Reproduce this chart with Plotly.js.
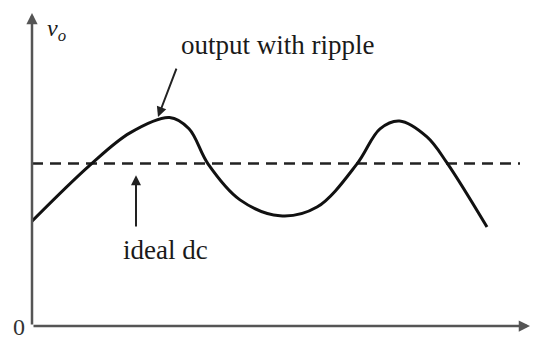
<!DOCTYPE html>
<html>
<head>
<meta charset="utf-8">
<script src="https://cdn.plot.ly/plotly-3.0.1.min.js"></script>
<style>html,body{margin:0;padding:0;background:#fff;}#chart{width:544px;height:341px;}</style>
</head>
<body>
<div id="chart"></div>
<script>
// time (arbitrary units) and output voltage v_o (arbitrary units)
var t = [0, 11.6, 19.6, 27.5, 31.4, 35.2, 41.6, 49.6, 57, 65, 69.6, 73.5, 79, 83, 91];
var vo = [3.35, 5.14, 6.17, 6.66, 6.30, 5.18, 4.03, 3.52, 3.80, 5.18, 6.30, 6.55, 6.04, 5.21, 3.16];
var dcT = [0, 97.6];
var dcLevel = [5.19, 5.19];
var labels = {ripple: "output with ripple", dc: "ideal dc", yName: "<i>v</i><sub><i>o</i></sub>", origin: "0"};

var serif = "Liberation Serif, Times New Roman, serif";
var data = [
  {x: dcT, y: dcLevel, mode: "lines", line: {color: "#222", width: 2.5, dash: "11px,7px"}, hoverinfo: "skip"},
  {x: t, y: vo, mode: "lines", line: {color: "#111", width: 3, shape: "spline", smoothing: 1}, hoverinfo: "skip"}
];
var arrowBase = {xref: "x", yref: "y", axref: "x", ayref: "y", text: "", showarrow: true, arrowhead: 2, arrowsize: 1, arrowcolor: "#222"};
var annotations = [
  Object.assign({}, arrowBase, {x: 99.6, y: 0, ax: 0, ay: 0, arrowwidth: 2.5, arrowcolor: "#555", arrowsize: 0.9}),
  Object.assign({}, arrowBase, {x: 0, y: 10, ax: 0, ay: 0, arrowwidth: 2.5, arrowcolor: "#555", arrowsize: 0.9}),
  Object.assign({}, arrowBase, {x: 25.2, y: 6.68, ax: 29, ay: 8.27, arrowwidth: 2}),
  Object.assign({}, arrowBase, {x: 20.8, y: 4.82, ax: 20.8, ay: 3.13, arrowwidth: 2}),
  {xref: "x", yref: "y", x: 49, y: 8.98, text: labels.ripple, showarrow: false, font: {family: serif, size: 27, color: "#1a1a1a"}},
  {xref: "x", yref: "y", x: 26.6, y: 2.43, text: labels.dc, showarrow: false, font: {family: serif, size: 27, color: "#1a1a1a"}},
  {xref: "x", yref: "y", x: 4.8, y: 9.45, text: labels.yName, showarrow: false, font: {family: serif, size: 24, color: "#1a1a1a"}},
  {xref: "paper", yref: "paper", x: -0.026, y: -0.004, xanchor: "center", yanchor: "middle", text: labels.origin, showarrow: false, font: {family: serif, size: 24, color: "#333"}}
];
var layout = {
  width: 544, height: 341,
  margin: {l: 32, r: 12, t: 13, b: 15},
  paper_bgcolor: "#fff", plot_bgcolor: "#fff",
  showlegend: false,
  xaxis: {range: [0, 100], visible: false, fixedrange: true},
  yaxis: {range: [0, 10], visible: false, fixedrange: true},
  annotations: annotations
};
Plotly.newPlot("chart", data, layout, {staticPlot: true});
</script>
</body>
</html>
